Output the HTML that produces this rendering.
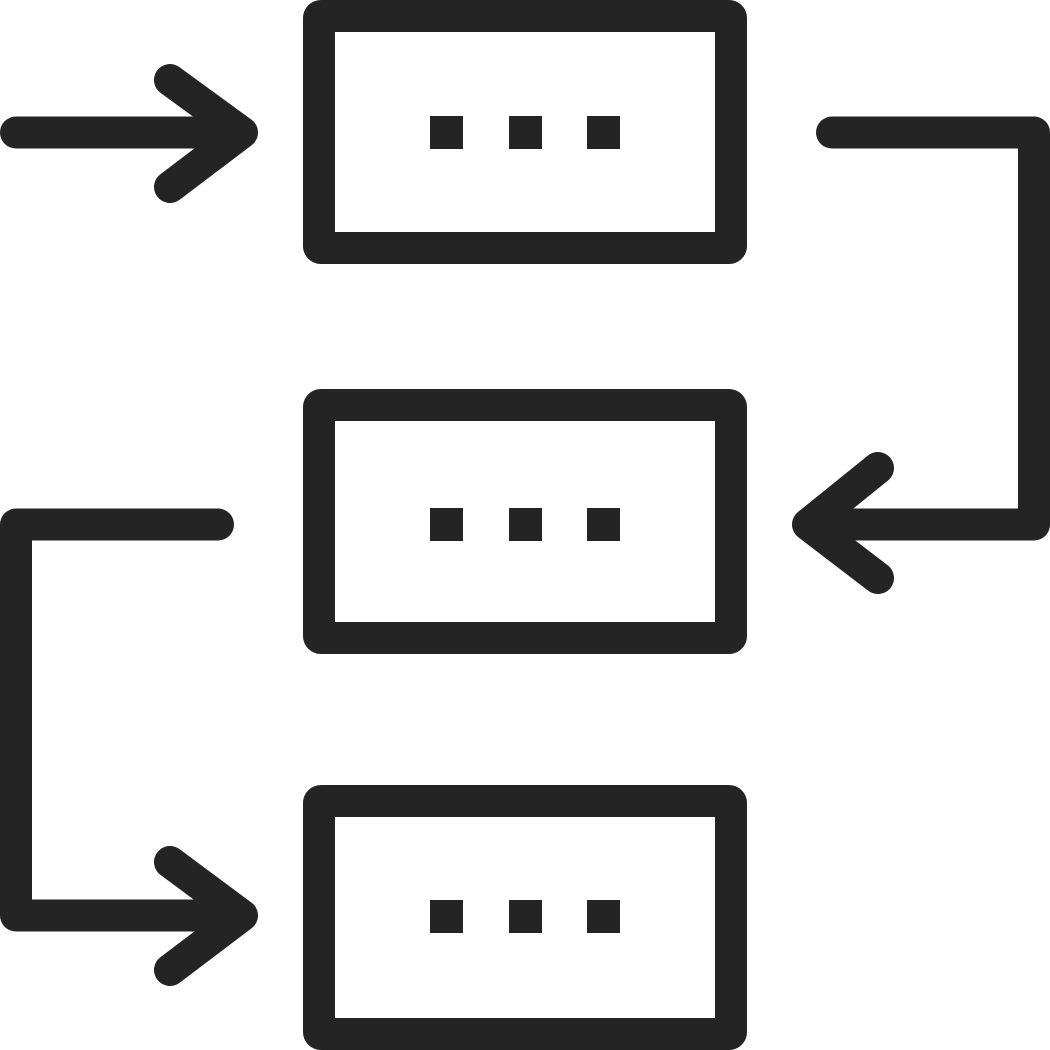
<!DOCTYPE html>
<html><head><style>html,body{margin:0;padding:0;background:#fff;}svg{display:block}</style></head>
<body>
<svg width="1050" height="1050" viewBox="0 0 1050 1050" xmlns="http://www.w3.org/2000/svg">
<g fill="none" stroke="#242424" stroke-width="32" stroke-linejoin="round" stroke-linecap="round">
<rect x="319" y="16" width="412" height="232" rx="2"/>
<rect x="319" y="405" width="412" height="233" rx="2"/>
<rect x="319" y="801" width="412" height="233" rx="2"/>
<path d="M16 132.5 H240"/>
<path d="M170 80 L242 132.5 L170 187"/>
<path d="M832 132.5 H1034 V524.5 H812"/>
<path d="M878 468 L808 524.5 L878 578"/>
<path d="M218 524.5 H16 V915.5 H240"/>
<path d="M170 862 L242 915.5 L170 970"/>
</g>
<g fill="#242424">
<rect x="430" y="116" width="33" height="33"/><rect x="509" y="116" width="33" height="33"/><rect x="587" y="116" width="33" height="33"/>
<rect x="430" y="508" width="33" height="33"/><rect x="509" y="508" width="33" height="33"/><rect x="587" y="508" width="33" height="33"/>
<rect x="430" y="900" width="33" height="33"/><rect x="509" y="900" width="33" height="33"/><rect x="587" y="900" width="33" height="33"/>
</g>
</svg>
</body></html>
